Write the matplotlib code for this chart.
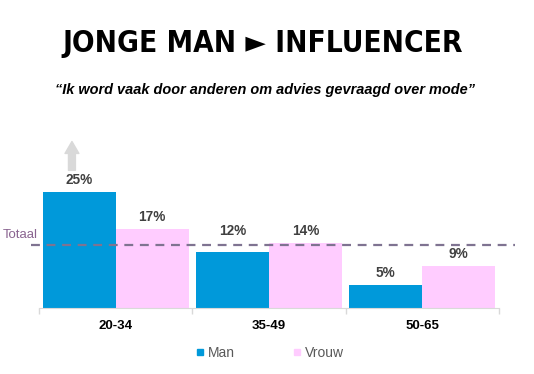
import matplotlib
matplotlib.use('Agg')
import matplotlib.pyplot as plt
from matplotlib.lines import Line2D
import numpy as np

# data
groups = ['20-34', '35-49', '50-65']
man = [25, 12, 5]
vrouw = [17, 14, 9]
totaal = 13.5
series_names = ['Man', 'Vrouw']

title = 'JONGE MAN \u25BA INFLUENCER'
subtitle = '\u201cIk word vaak door anderen om advies gevraagd over mode\u201d'

blue = '#0099da'
pink = '#ffccff'
label_grey = '#404040'

plt.rcParams['font.family'] = ['Liberation Sans', 'DejaVu Sans']

fig = plt.figure(figsize=(5.34, 3.74), dpi=100)
ax = fig.add_axes([0.073, 0.1765, 0.8614, 0.4725])

x = np.arange(len(groups))
w = 0.477
b1 = ax.bar(x - w / 2, man, w, color=blue, label=series_names[0])
b2 = ax.bar(x + w / 2, vrouw, w, color=pink, label=series_names[1])

for bars in (b1, b2):
    for r in bars:
        h = r.get_height()
        # labels that would sit on the total line get lifted above it
        dy = 8.5
        if h < totaal and h + 4 > totaal:
            dy = 15
        ax.annotate('%d%%' % h, (r.get_x() + r.get_width() / 2, h),
                    xytext=(0, dy), textcoords='offset points', ha='center', va='center',
                    fontsize=9.8, fontweight='bold', color=label_grey)

# dashed total line, running a bit past the axis on both sides
ax.plot([-0.552, 2.605], [totaal, totaal], ls=(0, (4, 3)), lw=1.6, color='#7f7391',
        clip_on=False, zorder=3)
ax.text(-0.51, totaal + 1.0, 'Totaal', ha='right', va='bottom', fontsize=9.5, color='#8a6490',
        clip_on=False)

# grey up arrow over the first bar
ax.annotate('', xy=(-0.285, 35.8), xytext=(-0.285, 29.6),
            arrowprops=dict(arrowstyle='simple,head_length=0.86,head_width=1.0,tail_width=0.5',
                            color='#d9d9d9', shrinkA=0, shrinkB=0, mutation_scale=10))

ax.set_xlim(-0.5, 2.5)
ax.set_ylim(0, 38)
for s in ['top', 'right', 'left']:
    ax.spines[s].set_visible(False)
ax.spines['bottom'].set_color('#d9d9d9')
ax.set_yticks([])
ax.set_xticks(x)
ax.set_xticklabels(groups, fontsize=9.5, fontweight='bold', color='black')
ax.tick_params(axis='x', which='major', length=0, pad=9)
ax.set_xticks([-0.5, 0.5, 1.5, 2.5], minor=True)
ax.tick_params(axis='x', which='minor', length=4, color='#d9d9d9', width=1)

handles = [Line2D([], [], ls='none', marker='s', markersize=5, color=blue),
           Line2D([], [], ls='none', marker='s', markersize=5, color=pink)]
fig.legend(handles, series_names, loc='center', bbox_to_anchor=(0.505, 0.056), ncol=2,
           frameon=False, fontsize=10, handlelength=0.6, handletextpad=0.3, columnspacing=4.15,
           labelcolor='#595959')

fig.text(0.492, 0.885, title, ha='center', va='center', fontsize=21.3,
         fontweight='heavy', fontstretch='condensed', family=['DejaVu Sans'])
fig.text(0.496, 0.76, subtitle, ha='center', va='center', fontsize=10.45, fontweight='bold',
         style='italic')

fig.savefig('out.png', dpi=100)
